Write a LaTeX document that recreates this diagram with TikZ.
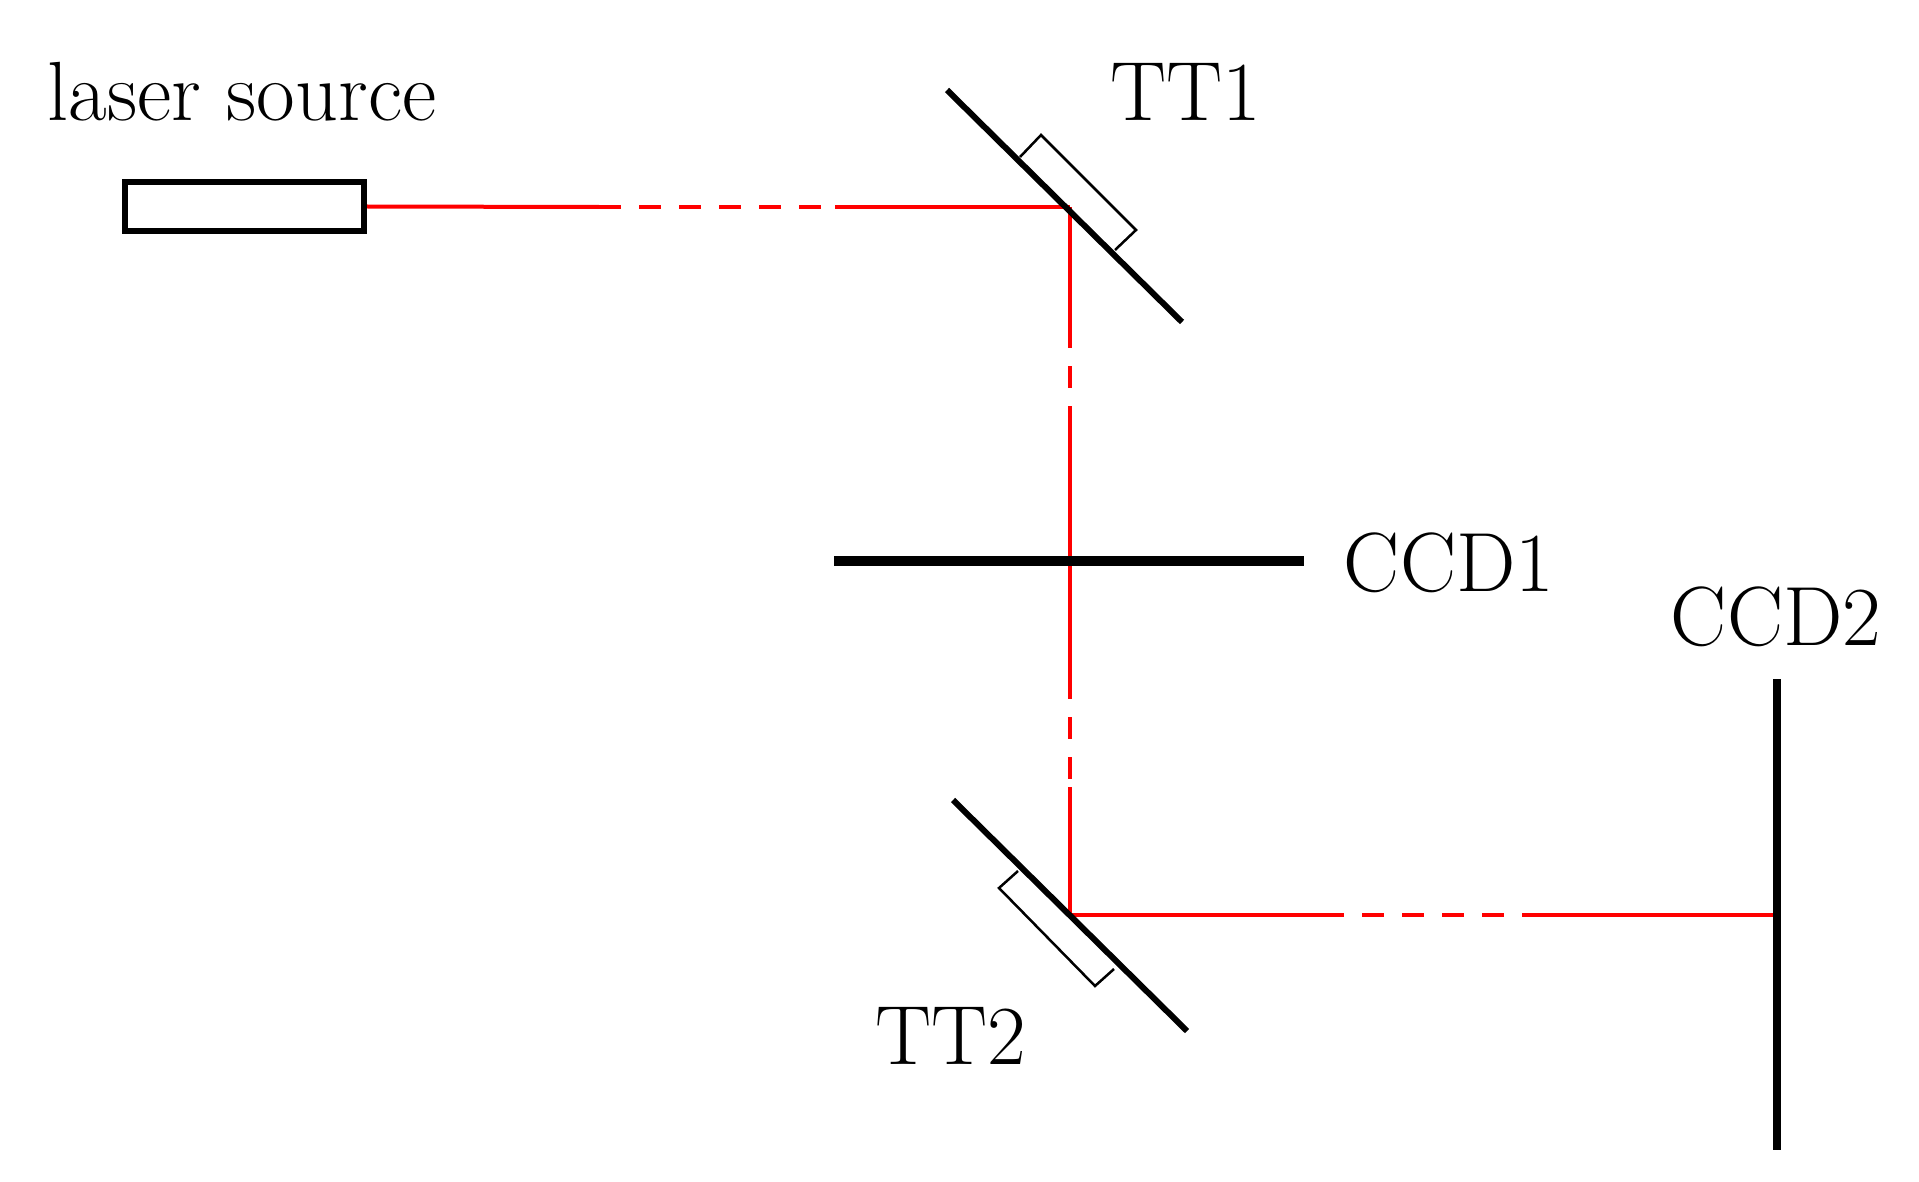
\documentclass[tikz,border=0pt]{standalone}
\begin{document}
\begin{tikzpicture}[x=1pt,y=-1pt,
  beam/.style={red,line width=4pt},
  dbeam/.style={red,line width=4pt,dash pattern=on 22pt off 18pt},
  mir/.style={black,line width=6pt},
  lbl/.style={font=\fontsize{84}{96}\selectfont,inner sep=0pt}]
\useasboundingbox (0,0) rectangle (1919,1182);
\node[draw,line width=6pt,minimum width=239pt,minimum height=49pt,inner sep=0pt] (laser) at (244.5,206.5) {};
\coordinate (c1) at (1070,207);
\coordinate (c2) at (1070,915);
\coordinate (h1a) at (599,207); \coordinate (h1b) at (835,207);
\coordinate (v1a) at (1070,326); \coordinate (v1b) at (1070,424);
\coordinate (ccd1c) at (1070,561);
\coordinate (v2a) at (1070,677); \coordinate (v2b) at (1070,787);
\coordinate (h2a) at (1322,915); \coordinate (h2b) at (1540,915);
\coordinate (ccd2c) at (1777,915);
\draw[beam] (laser.east) -- (h1a); \draw[dbeam] (h1a) -- (h1b); \draw[beam] (h1b) -- (c1);
\draw[beam] (c1) -- (v1a); \draw[dbeam] (v1a) -- (v1b); \draw[beam] (v1b) -- (v2a);
\draw[dbeam] (v2a) -- (v2b); \draw[beam] (v2b) -- (c2);
\draw[beam] (c2) -- (h2a); \draw[dbeam] (h2a) -- (h2b); \draw[beam] (h2b) -- (ccd2c);
% TT1
\draw[mir] (947,90) -- (1182,322);
\draw[line width=2.5pt] (1020,157) -- (1041,135) -- (1136,230) -- (1115,250);
% TT2
\draw[mir] (953,800) -- (1187,1031);
\draw[line width=2.5pt] (1018,871) -- (999,888) -- (1095,986) -- (1114,969);
% CCDs
\draw[black,line width=10pt] (834,561) -- (1304,561);
\draw[black,line width=8pt] (1777,679) -- (1777,1150);
\node[lbl] (tl) at (242,92) {laser source};
\node[lbl] (t1) at (1186,92) {TT1};
\node[lbl] (t2) at (951,1036) {TT2};
\node[lbl] (tc1) at (1449,563) {CCD1};
\node[lbl] (tc2) at (1776,617) {CCD2};
\end{tikzpicture}
\end{document}
